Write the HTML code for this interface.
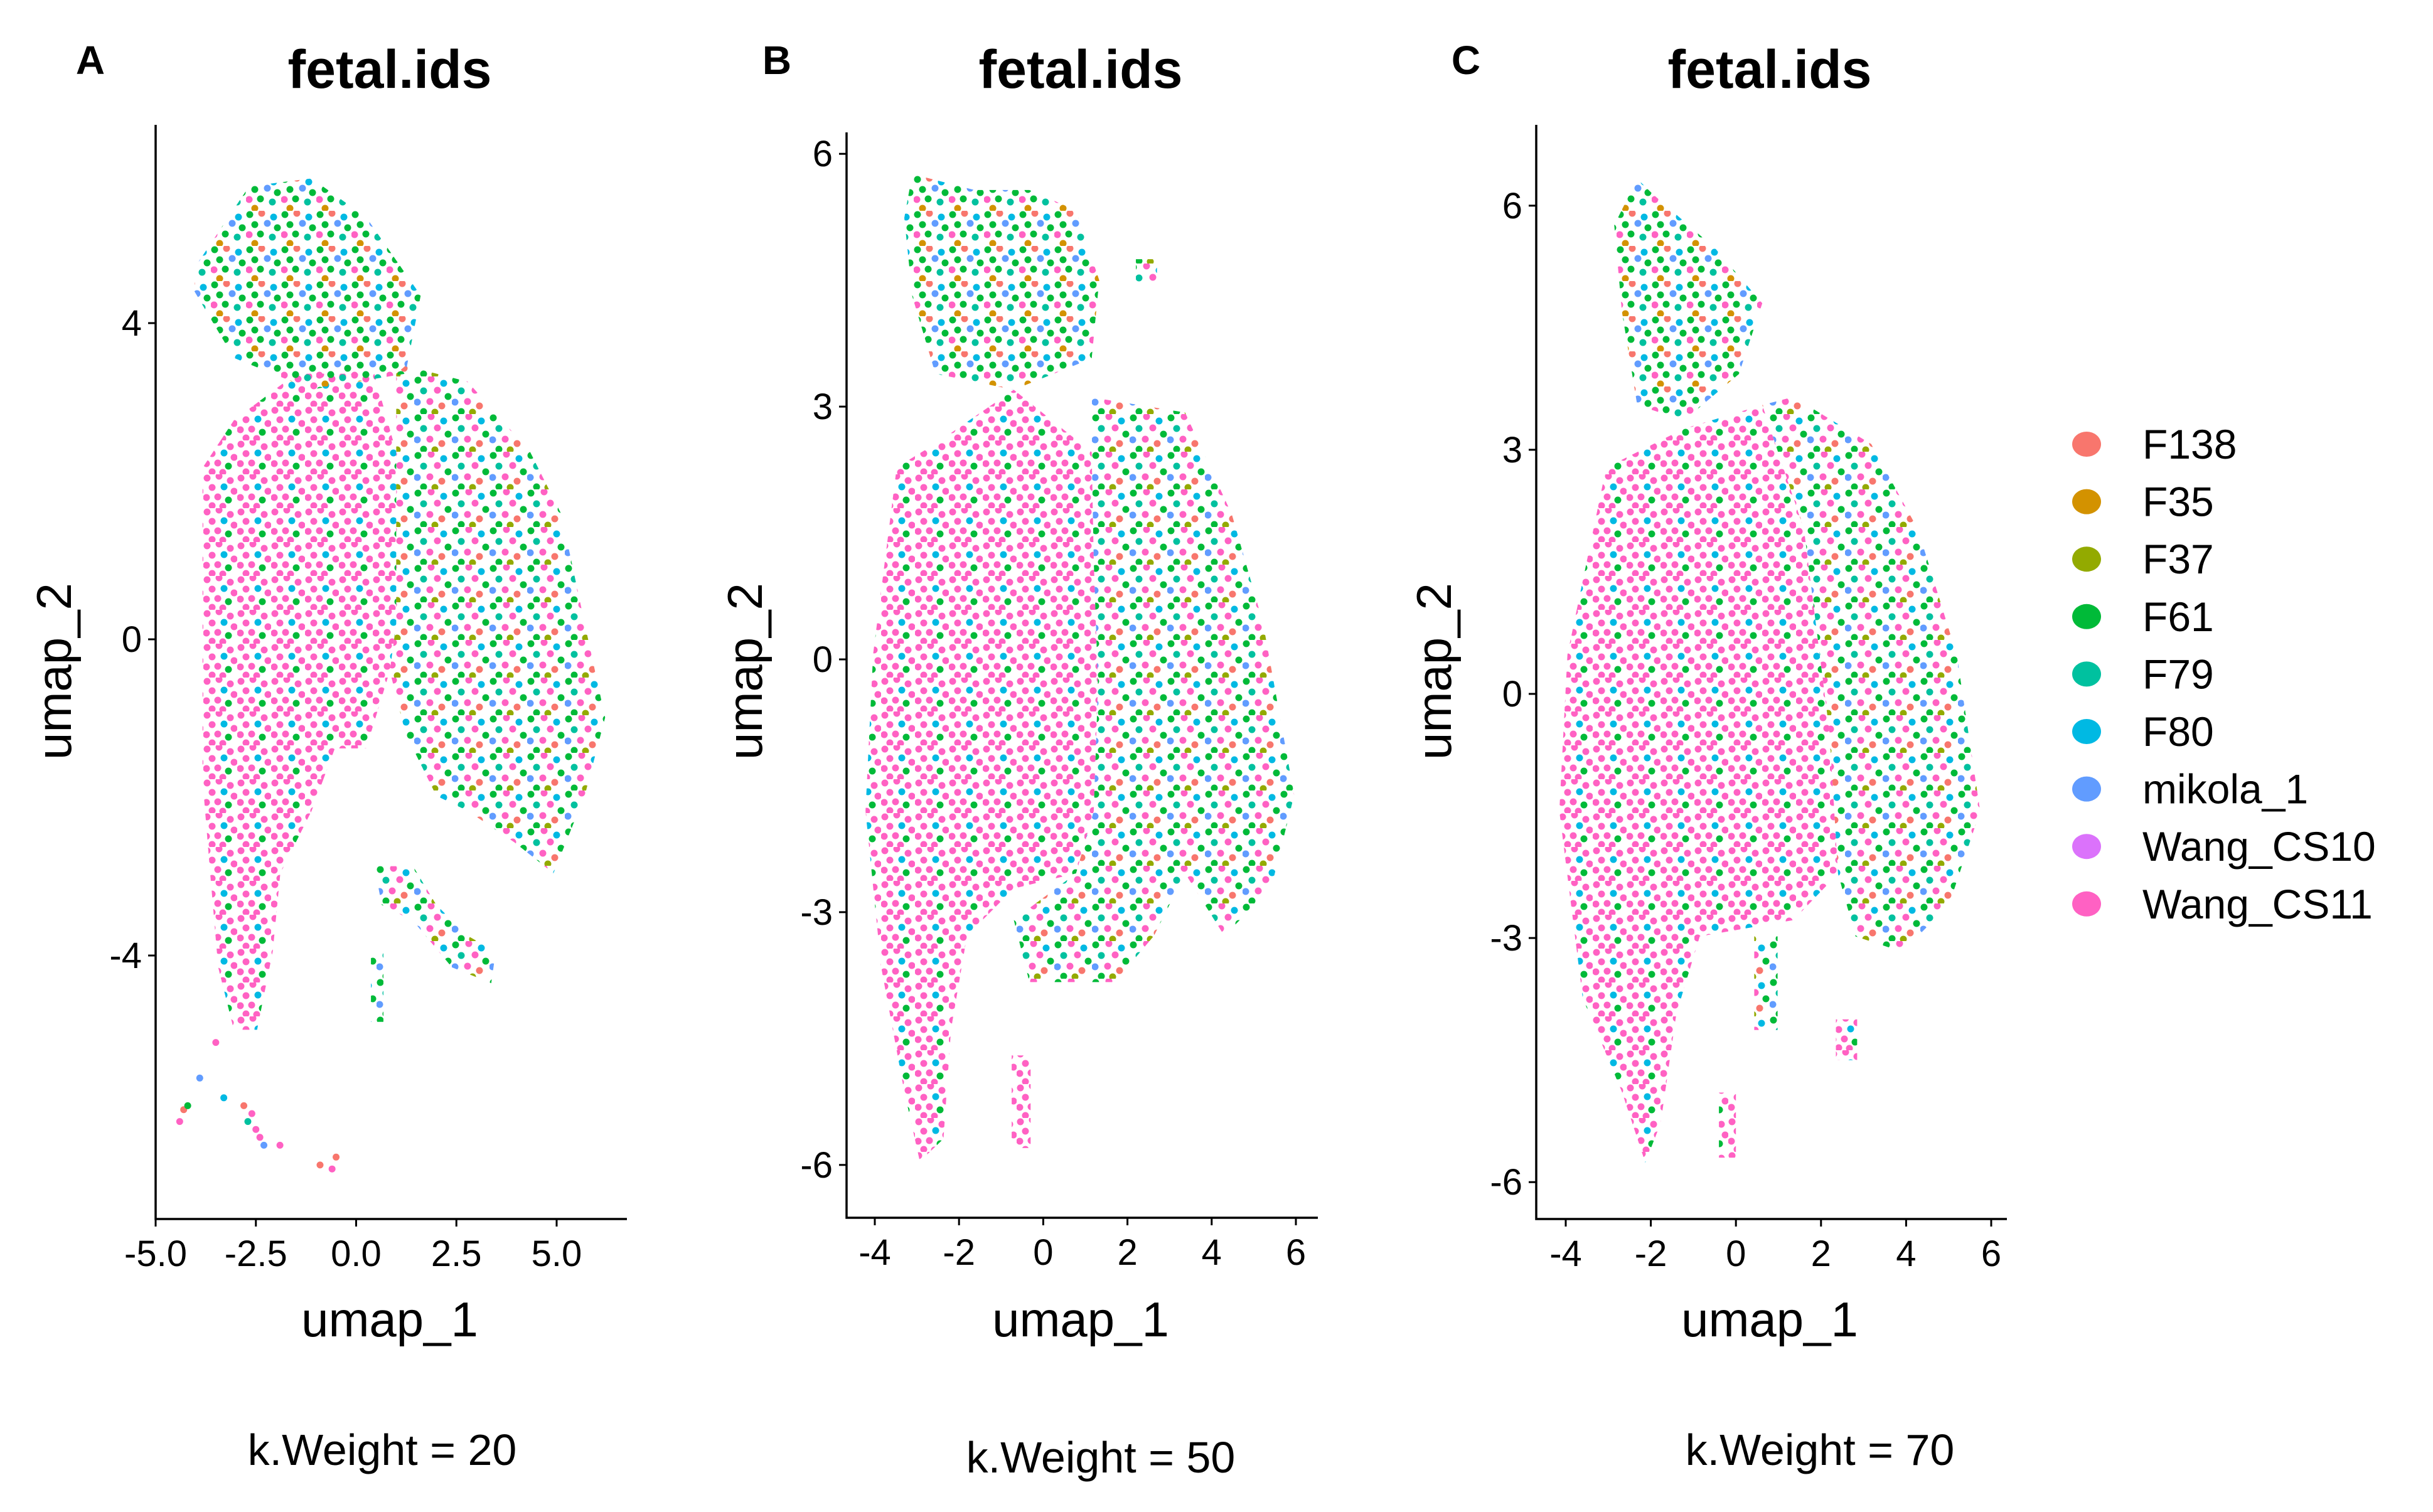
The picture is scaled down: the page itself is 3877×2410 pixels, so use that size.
<!DOCTYPE html>
<html><head><meta charset="utf-8"><style>
body{margin:0;background:#fff;}
svg{display:block;font-family:"Liberation Sans",sans-serif;}
</style></head><body>
<svg id="chart" width="3877" height="2410" viewBox="0 0 3877 2410" xmlns="http://www.w3.org/2000/svg">
<defs>
<pattern id="pinkPat" patternUnits="userSpaceOnUse" width="54" height="54">
<circle cx="6" cy="6" r="5.5" fill="#FF61C3"/><circle cx="25" cy="3" r="5.5" fill="#FF61C3"/><circle cx="43" cy="10" r="5.5" fill="#FF61C3"/>
<circle cx="14" cy="21" r="5.5" fill="#FF61C3"/><circle cx="33" cy="20" r="5.5" fill="#00B9E3"/><circle cx="49" cy="27" r="5.5" fill="#FF61C3"/>
<circle cx="5" cy="37" r="5.5" fill="#FF61C3"/><circle cx="23" cy="36" r="5.5" fill="#FF61C3"/><circle cx="40" cy="41" r="5.5" fill="#00BA38"/>
<circle cx="14" cy="50" r="5.5" fill="#FF61C3"/><circle cx="31" cy="51" r="5.5" fill="#FF61C3"/>
</pattern>
<pattern id="mixPat" patternUnits="userSpaceOnUse" width="60" height="60">
<circle cx="6" cy="6" r="5.5" fill="#00BA38"/><circle cx="27" cy="4" r="5.5" fill="#FF61C3"/><circle cx="47" cy="11" r="5.5" fill="#00B9E3"/>
<circle cx="15" cy="23" r="5.5" fill="#00C19F"/><circle cx="37" cy="22" r="5.5" fill="#FF61C3"/><circle cx="54" cy="32" r="5.5" fill="#00BA38"/>
<circle cx="5" cy="41" r="5.5" fill="#619CFF"/><circle cx="25" cy="40" r="5.5" fill="#FF61C3"/><circle cx="44" cy="47" r="5.5" fill="#F8766D"/>
<circle cx="15" cy="56" r="5.5" fill="#00BA38"/><circle cx="33" cy="57" r="5.5" fill="#93AA00"/>
</pattern>
<pattern id="headPat" patternUnits="userSpaceOnUse" width="56" height="56">
<circle cx="6" cy="6" r="5.5" fill="#00BA38"/><circle cx="25" cy="4" r="5.5" fill="#F8766D"/><circle cx="44" cy="10" r="5.5" fill="#00B9E3"/>
<circle cx="14" cy="22" r="5.5" fill="#00BA38"/><circle cx="34" cy="20" r="5.5" fill="#619CFF"/><circle cx="50" cy="27" r="5.5" fill="#00BA38"/>
<circle cx="5" cy="38" r="5.5" fill="#FF61C3"/><circle cx="23" cy="37" r="5.5" fill="#00BA38"/><circle cx="42" cy="42" r="5.5" fill="#00C19F"/>
<circle cx="14" cy="52" r="5.5" fill="#D39200"/>
</pattern>
</defs>
<g id="panels"></g>
<g id="legend"></g>
</svg>
<script>
const categories = ["F138","F35","F37","F61","F79","F80","mikola_1","Wang_CS10","Wang_CS11"];
const catColors = ["#F8766D","#D39200","#93AA00","#00BA38","#00C19F","#00B9E3","#619CFF","#DB72FB","#FF61C3"];
const panelLetters = ["A","B","C"];
const kWeights = [20,50,70];
const xTicksA = [-5,-2.5,0,2.5,5];
const xTickLabelsA = ["-5.0","-2.5","0.0","2.5","5.0"];
const yTicksA = [-4,0,4];
const xTicksBC = [-4,-2,0,2,4,6];
const yTicksBC = [-6,-3,0,3,6];
// cloud regions (data coordinates) per panel
const headA = [[-4.03,4.7],[-2.67,5.73],[-1.11,5.83],[0.25,5.34],[1.61,4.35],[1.23,3.36],[-1.11,3.16],[-3.05,3.56],[-4.03,4.4]];
const pinkA = [[-3.83,2.17],[-3.83,-1.78],[-3.64,-2.96],[-3.44,-4.15],[-3.05,-4.94],[-2.47,-4.94],[-2.08,-3.95],[-1.89,-2.96],[-1.11,-2.17],[-0.53,-1.38],[0.25,-1.38],[0.84,-0.4],[1.0,0.2],[1.0,2.37],[0.45,3.36],[-1.5,3.36],[-3.05,2.77]];
const mixA = [[1.0,3.36],[1.23,3.46],[2.78,3.26],[4.34,2.37],[5.12,1.58],[5.7,0.2],[6.21,-0.99],[5.7,-1.98],[4.92,-2.96],[3.95,-2.57],[2.78,-2.17],[2.0,-1.98],[1.23,-1.19],[0.84,-0.4],[1.0,0.2],[1.0,2.37]];
const armA = [[0.45,-2.87],[1.42,-2.87],[2.0,-3.36],[2.78,-3.75],[3.48,-3.95],[3.37,-4.35],[2.39,-4.15],[1.42,-3.56],[0.64,-3.36]];
const stalkA = [[0.37,-3.95],[0.68,-3.95],[0.68,-4.84],[0.37,-4.84]];
const tailAx = [-4.4,-4.3,-4.2,-3.9,-3.5,-3.3,-2.8,-2.6,-2.5,-2.3,-1.9,-0.9,-0.6,-0.5,-2.7,-2.4];
const tailAy = [-6.1,-5.95,-5.9,-5.55,-5.1,-5.8,-5.9,-6.0,-6.2,-6.4,-6.4,-6.65,-6.7,-6.55,-6.1,-6.3];
const headB = [[-3.3,5.24],[-3.11,5.76],[-1.63,5.57],[-0.33,5.57],[0.78,5.33],[1.33,4.5],[1.15,3.57],[-0.7,3.2],[-2.56,3.39],[-3.11,4.31]];
const pinkB = [[-3.48,2.28],[-4.04,0.06],[-4.22,-1.8],[-3.85,-3.65],[-3.3,-5.13],[-2.93,-5.96],[-2.37,-5.69],[-2.19,-4.39],[-1.81,-3.28],[-0.7,-2.72],[0.78,-2.54],[1.2,-1.8],[1.3,-0.31],[1.2,1.17],[1.15,2.46],[-0.7,3.2],[-2.56,2.56]];
const mixB = [[1.15,3.11],[3.37,2.93],[4.48,1.72],[5.22,0.43],[5.96,-1.61],[5.41,-2.72],[4.3,-3.28],[3.37,-2.54],[2.63,-3.28],[1.7,-3.83],[1.15,-3.83],[-0.33,-3.83],[-0.7,-3.09],[0.78,-2.54],[1.2,-1.8],[1.3,-0.31],[1.2,1.17],[1.15,2.46]];
const stalkB = [[-0.75,-4.7],[-0.3,-4.7],[-0.3,-5.8],[-0.75,-5.8]];
const islandB = [[2.2,4.75],[2.7,4.75],[2.7,4.45],[2.2,4.45]];
const headC = [[-2.86,5.76],[-2.32,6.33],[-1.95,6.14],[-0.48,5.47],[0.62,4.8],[0.07,3.93],[-1.22,3.36],[-2.32,3.55],[-2.68,4.7]];
const pinkC = [[-3.05,2.78],[-3.96,0.48],[-4.15,-1.44],[-3.6,-3.74],[-2.68,-4.89],[-2.13,-5.76],[-1.77,-5.28],[-1.4,-3.93],[-0.85,-2.98],[1.35,-2.78],[2.4,-2.21],[2.2,-0.48],[1.6,2.02],[0.62,3.55],[-1.22,3.26]];
const mixC = [[0.62,3.55],[1.35,3.65],[3.18,3.07],[4.28,2.02],[5.19,0.48],[5.74,-1.44],[5.01,-2.59],[3.91,-3.17],[2.81,-2.98],[2.4,-2.21],[2.2,-0.48],[1.6,2.02]];
const stalkC = [[0.43,-2.98],[0.98,-2.98],[0.98,-4.13],[0.43,-4.13]];
const stalkC2 = [[2.35,-4.0],[2.85,-4.0],[2.85,-4.5],[2.35,-4.5]];
const stalkC3 = [[-0.4,-4.9],[0,-4.9],[0,-5.7],[-0.4,-5.7]];

const NS="http://www.w3.org/2000/svg";
function mk(parent,tag,attrs,text){const e=document.createElementNS(NS,tag);for(const k in attrs)e.setAttribute(k,attrs[k]);if(text!==undefined)e.textContent=text;parent.appendChild(e);return e;}

const panels=[
 {x0:248,x1:999,y0:199,y1:1943,xs:v=>248+(v+5)*63.9,ys:v=>1019-v*126,xt:xTicksA,xl:xTickLabelsA,yt:yTicksA,tc:621,lx:144,yl:87,kx:609,ky:2311,
  regions:[[pinkA,"pinkPat"],[mixA,"mixPat"],[headA,"headPat"],[armA,"mixPat"],[stalkA,"mixPat"]],tx:tailAx,ty:tailAy},
 {x0:1349,x1:2100,y0:211,y1:1941,xs:v=>1394+(v+4)*67.1,ys:v=>1051-v*134.3,xt:xTicksBC,xl:xTicksBC.map(String),yt:yTicksBC,tc:1722,lx:1238,yl:1188,kx:1754,ky:2323,
  regions:[[pinkB,"pinkPat"],[mixB,"mixPat"],[headB,"headPat"],[stalkB,"pinkPat"],[islandB,"mixPat"]]},
 {x0:2448,x1:3198,y0:199,y1:1943,xs:v=>2495+(v+4)*67.8,ys:v=>1106-v*129.7,xt:xTicksBC,xl:xTicksBC.map(String),yt:yTicksBC,tc:2820,lx:2336,yl:2286,kx:2900,ky:2311,
  regions:[[pinkC,"pinkPat"],[mixC,"mixPat"],[headC,"headPat"],[stalkC,"mixPat"],[stalkC2,"pinkPat"],[stalkC3,"pinkPat"]]}
];
const root=document.getElementById('panels');
panels.forEach((p,i)=>{
 const g=mk(root,'g',{});
 
 
 const cloud=mk(g,'g',{});
 
 
 p.regions.forEach(([poly,pat])=>{
  const pts=poly.map(([a,b])=>p.xs(a).toFixed(1)+','+p.ys(b).toFixed(1)).join(' ');
  const pg=mk(cloud,'polygon',{points:pts,fill:'url(#'+pat+')'});
  
  
 });
 if(p.tx){p.tx.forEach((vx,j)=>{
  const c=mk(cloud,'circle',{cx:p.xs(vx),cy:p.ys(p.ty[j]),r:5.5,fill:catColors[[8,0,3,6,8,5,0,8,8,6,8,0,8,0,4,8][j]]});
  
  
 });}
 const ax=mk(g,'path',{d:`M${p.x0},${p.y0}V${p.y1}H${p.x1}`,stroke:'#000','stroke-width':3.5,fill:'none'});
 
 
 p.xt.forEach((v,j)=>{
  mk(g,'line',{x1:p.xs(v),x2:p.xs(v),y1:p.y1,y2:p.y1+12,stroke:'#000','stroke-width':3});
  const t=mk(g,'text',{x:p.xs(v),y:p.y1+75,'text-anchor':'middle','font-size':58,fill:'#000'},p.xl[j]);
  
  
 });
 p.yt.forEach(v=>{
  mk(g,'line',{x1:p.x0-12,x2:p.x0,y1:p.ys(v),y2:p.ys(v),stroke:'#000','stroke-width':3});
  const t=mk(g,'text',{x:p.x0-22,y:p.ys(v)+20,'text-anchor':'end','font-size':58,fill:'#000'},String(v));
  
  
 });
 const ti=mk(g,'text',{x:p.tc,y:140,'text-anchor':'middle','font-size':86,'font-weight':'bold'},'fetal.ids');
 
 
 const le=mk(g,'text',{x:p.lx,y:118,'text-anchor':'middle','font-size':64,'font-weight':'bold'},panelLetters[i]);
 
 
 const xa=mk(g,'text',{x:p.tc,y:2130,'text-anchor':'middle','font-size':78},'umap_1');
 
 
 const ya=mk(g,'text',{x:p.yl+26,y:1070,'text-anchor':'middle','font-size':78,transform:`rotate(-90 ${p.yl+26} 1070)`},'umap_2');
 
 
 const kw=mk(g,'text',{x:p.kx,y:p.ky+24,'text-anchor':'middle','font-size':70},'k.Weight = '+kWeights[i]);
 
 
});
const lg=document.getElementById('legend');
categories.forEach((c,i)=>{
 const y=708+i*91.6;
 const e=mk(lg,'g',{});
 
 
 mk(e,'ellipse',{cx:3325,cy:y,rx:23,ry:20,fill:catColors[i]});
 mk(e,'text',{x:3414,y:y+23,'font-size':66},c);
});
</script>
</body></html>
